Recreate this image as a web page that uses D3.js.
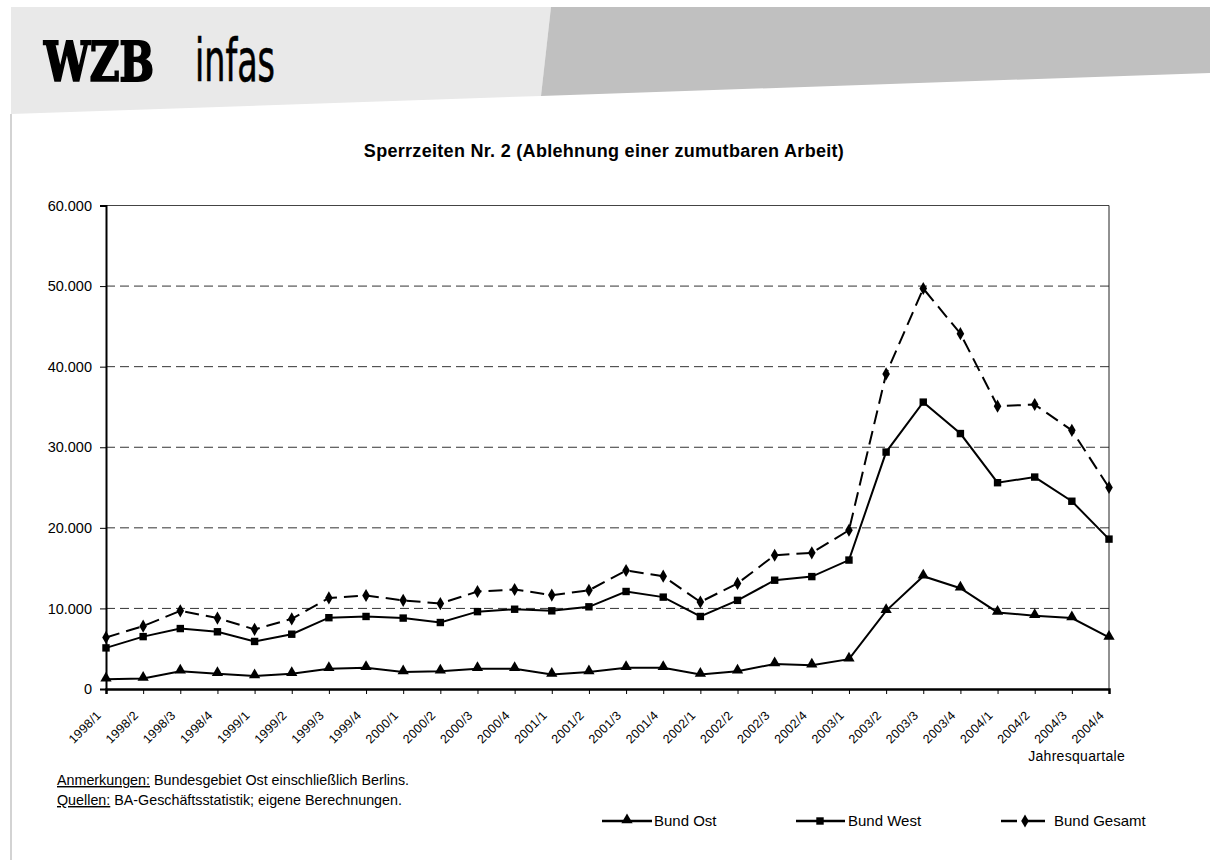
<!DOCTYPE html>
<html>
<head>
<meta charset="utf-8">
<script src="https://cdn.jsdelivr.net/npm/d3@7"></script>
<style>
  html, body { margin: 0; padding: 0; background: #fff; }
  svg { display: block; }
  text { font-family: "Liberation Sans", Arial, sans-serif; fill: #000; }
</style>
</head>
<body>
<svg id="chart" width="1210" height="865"></svg>
<script>
// ---------- data ----------
const categories = [
  "1998/1","1998/2","1998/3","1998/4",
  "1999/1","1999/2","1999/3","1999/4",
  "2000/1","2000/2","2000/3","2000/4",
  "2001/1","2001/2","2001/3","2001/4",
  "2002/1","2002/2","2002/3","2002/4",
  "2003/1","2003/2","2003/3","2003/4",
  "2004/1","2004/2","2004/3","2004/4"
];
const bundOst = [
  1200, 1300, 2200, 1900, 1600, 1900, 2500, 2650,
  2100, 2200, 2500, 2500, 1800, 2100, 2650, 2650,
  1800, 2200, 3100, 2950, 3700, 9700, 14000, 12500,
  9500, 9100, 8800, 6400
];
const bundWest = [
  5100, 6500, 7500, 7100, 5900, 6800, 8850, 9000,
  8800, 8250, 9600, 9900, 9700, 10200, 12100, 11400,
  9000, 11000, 13500, 13950, 16000, 29400, 35600, 31700,
  25600, 26300, 23300, 18600
];
const bundGesamt = [
  6400, 7800, 9700, 8800, 7400, 8700, 11300, 11600,
  11000, 10600, 12100, 12350, 11650, 12250, 14700, 14000,
  10800, 13100, 16600, 16900, 19700, 39100, 49700, 44100,
  35100, 35300, 32100, 25000
];
const yTicks = [0, 10000, 20000, 30000, 40000, 50000, 60000];
const seriesNames = ["Bund Ost", "Bund West", "Bund Gesamt"];

// ---------- setup ----------
const svg = d3.select("#chart");
const de = d3.formatLocale({decimal: ",", thousands: ".", grouping: [3], currency: ["", " €"]});
const fmt = de.format(",");

// header
svg.append("polygon")
  .attr("points", "11,7 551,7 541,96 11,114")
  .attr("fill", "#e9e9e9");
svg.append("polygon")
  .attr("points", "551,7 1210,7 1210,73 541,96")
  .attr("fill", "#c0c0c0");
svg.append("line")
  .attr("x1", 11).attr("x2", 11).attr("y1", 114).attr("y2", 860)
  .attr("stroke", "#c4c4c4").attr("stroke-width", 1.5);

svg.append("text")
  .attr("x", 44).attr("y", 81)
  .attr("font-weight", "bold")
  .attr("font-size", 54)
  .attr("textLength", 110)
  .attr("lengthAdjust", "spacingAndGlyphs")
  .attr("stroke", "#000").attr("stroke-width", 2)
  .style("font-family", "'DejaVu Serif Condensed', 'DejaVu Serif', serif")
  .text("WZB");
svg.append("text")
  .attr("x", 195).attr("y", 81)
  .attr("font-size", 58)
  .attr("textLength", 80)
  .attr("lengthAdjust", "spacingAndGlyphs")
  .attr("stroke", "#000").attr("stroke-width", 0.6)
  .style("font-family", "'DejaVu Sans Condensed', 'DejaVu Sans', sans-serif")
  .text("infas");

// title
svg.append("text")
  .attr("x", 604).attr("y", 157)
  .attr("text-anchor", "middle")
  .attr("font-size", 18)
  .attr("font-weight", "bold")
  .attr("letter-spacing", 0.3)
  .text("Sperrzeiten Nr. 2 (Ablehnung einer zumutbaren Arbeit)");

// scales
const x = d3.scalePoint().domain(categories).range([106, 1109]);
const y = d3.scaleLinear().domain([0, 60000]).range([689, 205.5]);

// gridlines
svg.append("g").selectAll("line")
  .data(yTicks.filter(t => t > 0 && t < 60000))
  .join("line")
  .attr("x1", 106).attr("x2", 1109)
  .attr("y1", d => y(d)).attr("y2", d => y(d))
  .attr("stroke", "#333").attr("stroke-width", 1)
  .attr("stroke-dasharray", "9,5");

// plot border (top, right)
svg.append("line").attr("x1", 106).attr("x2", 1109).attr("y1", y(60000)).attr("y2", y(60000))
  .attr("stroke", "#444").attr("stroke-width", 1);
svg.append("line").attr("x1", 1109).attr("x2", 1109).attr("y1", y(60000)).attr("y2", y(0))
  .attr("stroke", "#222").attr("stroke-width", 1);

// y axis
const yAxis = svg.append("g")
  .attr("transform", "translate(106,0)")
  .call(d3.axisLeft(y).tickValues(yTicks).tickFormat(fmt).tickSize(6).tickPadding(8));
yAxis.select(".domain").attr("stroke", "#000").attr("stroke-width", 2);
yAxis.selectAll(".tick line").attr("stroke", "#000").attr("stroke-width", 1);
yAxis.selectAll(".tick text")
  .attr("font-size", 14.5)
  .style("font-family", "'Liberation Sans', Arial, sans-serif")
  .attr("fill", "#000");

// x axis
const xAxis = svg.append("g")
  .attr("transform", `translate(0,${y(0)})`)
  .call(d3.axisBottom(x).tickSize(5).tickFormat(""));
xAxis.select(".domain").attr("stroke", "#000").attr("stroke-width", 2.5);
xAxis.selectAll(".tick line").attr("stroke", "#000").attr("stroke-width", 1);

svg.append("g").selectAll("text")
  .data(categories)
  .join("text")
  .attr("transform", d => `translate(${x(d) - 4},${y(0) + 27}) rotate(-45)`)
  .attr("text-anchor", "end")
  .attr("font-size", 12.5)
  .attr("letter-spacing", 0.3)
  .text(d => d);

svg.append("text")
  .attr("x", 1125).attr("y", 761)
  .attr("text-anchor", "end")
  .attr("font-size", 14)
  .attr("letter-spacing", 0.3)
  .text("Jahresquartale");

// lines
const lineGen = d3.line().x((d, i) => x(categories[i])).y(d => y(d));
svg.append("path").datum(bundOst).attr("d", lineGen)
  .attr("fill", "none").attr("stroke", "#000").attr("stroke-width", 2);
svg.append("path").datum(bundWest).attr("d", lineGen)
  .attr("fill", "none").attr("stroke", "#000").attr("stroke-width", 2);
svg.append("path").datum(bundGesamt).attr("d", lineGen)
  .attr("fill", "none").attr("stroke", "#000").attr("stroke-width", 2)
  .attr("stroke-dasharray", "14,7");

// markers
const triangle = d3.symbol().type(d3.symbolTriangle).size(55);
const square = d3.symbol().type(d3.symbolSquare).size(55);
const diamond = d3.symbol().type(d3.symbolDiamond).size(50);

svg.append("g").selectAll("path").data(bundOst).join("path")
  .attr("d", triangle)
  .attr("transform", (d, i) => `translate(${x(categories[i])},${y(d) - 1})`)
  .attr("fill", "#000");
svg.append("g").selectAll("path").data(bundWest).join("path")
  .attr("d", square)
  .attr("transform", (d, i) => `translate(${x(categories[i])},${y(d)})`)
  .attr("fill", "#000");
svg.append("g").selectAll("path").data(bundGesamt).join("path")
  .attr("d", diamond)
  .attr("transform", (d, i) => `translate(${x(categories[i])},${y(d)})`)
  .attr("fill", "#000");

// notes
const notes = [
  ["Anmerkungen:", " Bundesgebiet Ost einschließlich Berlins."],
  ["Quellen:", " BA-Geschäftsstatistik; eigene Berechnungen."]
];
notes.forEach((n, i) => {
  const t = svg.append("text")
    .attr("x", 57).attr("y", 785 + i * 20)
    .attr("font-size", 14.3);
  t.append("tspan").attr("text-decoration", "underline").style("text-decoration", "underline").text(n[0]);
  t.append("tspan").text(n[1]);
});

// legend
const ly = 821;
const legendItems = [
  {name: seriesNames[0], segs: [[602, 652]], mx: 627, tx: 654, sym: triangle, dy: -1},
  {name: seriesNames[1], segs: [[796, 845]], mx: 820, tx: 848, sym: square, dy: 0},
  {name: seriesNames[2], segs: [[1001, 1017], [1023, 1045]], mx: 1025, tx: 1054, sym: diamond, dy: 0}
];
legendItems.forEach(it => {
  const g = svg.append("g");
  it.segs.forEach(s => {
    g.append("line").attr("x1", s[0]).attr("x2", s[1]).attr("y1", ly).attr("y2", ly)
      .attr("stroke", "#000").attr("stroke-width", 2.5);
  });
  g.append("path").attr("d", it.sym)
    .attr("transform", `translate(${it.mx},${ly + it.dy})`)
    .attr("fill", "#000");
  g.append("text").attr("x", it.tx).attr("y", ly + 5)
    .attr("font-size", 15).text(it.name);
});
</script>
</body>
</html>
